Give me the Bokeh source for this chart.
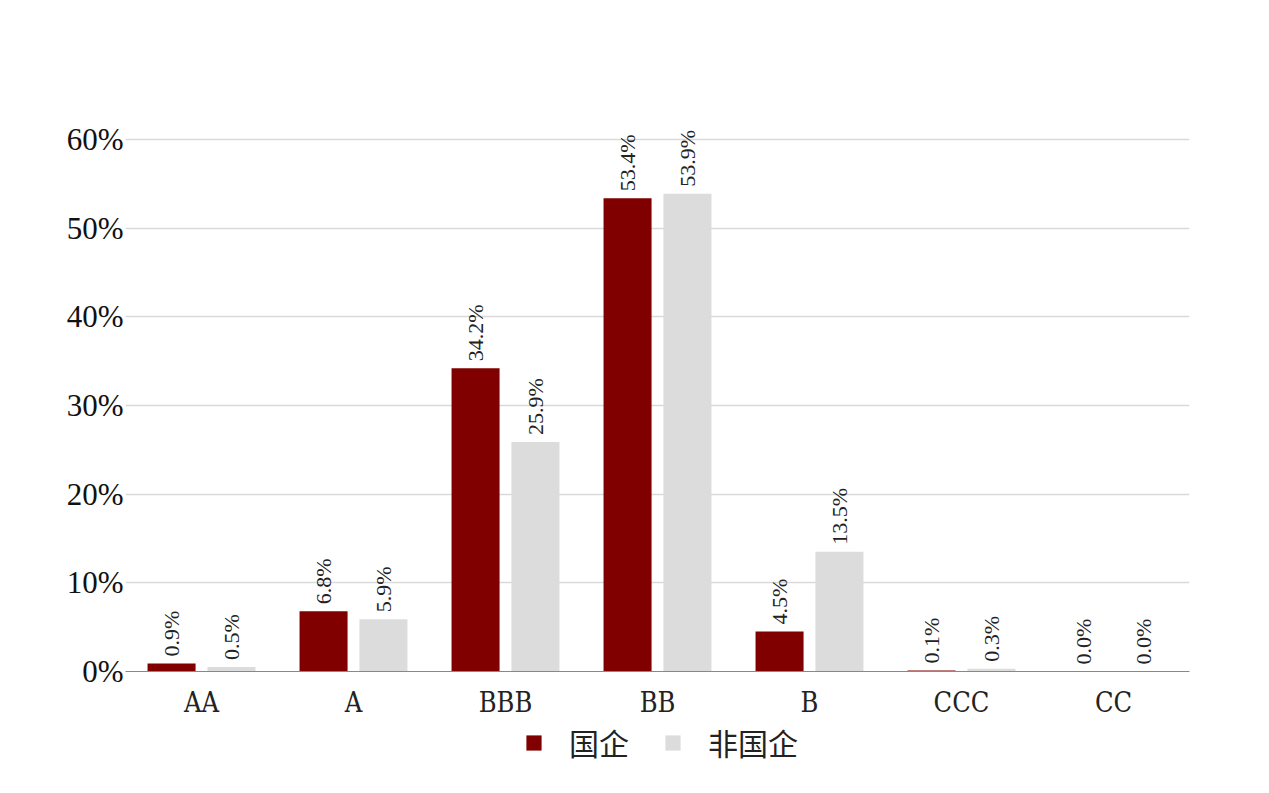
from bokeh.plotting import figure
from bokeh.layouts import column
from bokeh.models import ColumnDataSource, FactorRange, Legend, LegendItem, FixedTicker, CustomJSTickFormatter
from bokeh.transform import dodge
from bokeh.core.properties import value
from bokeh.embed import file_html
from bokeh.resources import INLINE
import math

categories = ["AA", "A", "BBB", "BB", "B", "CCC", "CC"]
soe = [0.9, 6.8, 34.2, 53.4, 4.5, 0.1, 0.0]
non_soe = [0.5, 5.9, 25.9, 53.9, 13.5, 0.3, 0.0]
series_names = ["国企", "非国企"]
series_colors = ["#800000", "#dcdcdc"]
y_ticks = [0, 10, 20, 30, 40, 50, 60]

SERIF = "'Liberation Serif'"

src = ColumnDataSource(dict(
    cat=categories, soe=soe, non=non_soe,
    soe_lbl=[f"{v:.1f}%" for v in soe],
    non_lbl=[f"{v:.1f}%" for v in non_soe],
))

p = figure(x_range=FactorRange(*categories, range_padding=0), y_range=(0, 66),
           width=1253, height=720, output_backend="svg", toolbar_location=None,
           min_border_left=125, min_border_right=64, min_border_top=86, min_border_bottom=49)
p.outline_line_color = None

r1 = p.vbar(x=dodge("cat", -0.197, range=p.x_range), top="soe", width=0.316, source=src,
            fill_color=series_colors[0], line_color=None)
r2 = p.vbar(x=dodge("cat", 0.197, range=p.x_range), top="non", width=0.316, source=src,
            fill_color=series_colors[1], line_color=None)

common = dict(angle=math.pi / 2, text_align="left", text_baseline="middle",
              text_font=value(SERIF), text_font_size="22px", text_color="#222222",
              y_offset=-7, source=src)
p.text(x=dodge("cat", -0.197, range=p.x_range), y="soe", text="soe_lbl", **common)
p.text(x=dodge("cat", 0.197, range=p.x_range), y="non", text="non_lbl", **common)

p.yaxis.ticker = FixedTicker(ticks=y_ticks)
p.yaxis.formatter = CustomJSTickFormatter(code="return tick + '%';")
p.yaxis.axis_line_color = None
p.yaxis.major_tick_line_color = None
p.yaxis.minor_tick_line_color = None
p.yaxis.major_label_text_font = SERIF
p.yaxis.major_label_text_font_size = "31px"
p.yaxis.major_label_text_color = "#111111"
p.yaxis.major_label_standoff = -4

p.xaxis.axis_line_color = "#888888"
p.xaxis.major_tick_line_color = None
p.xaxis.minor_tick_line_color = None
p.xaxis.major_label_text_font = "'DejaVu Serif Condensed'"
p.xaxis.major_label_text_font_size = "27px"
p.xaxis.major_label_text_color = "#222222"
p.xaxis.major_label_standoff = 9

p.xgrid.grid_line_color = None
p.ygrid.grid_line_color = "#d9d9d9"
p.ygrid.grid_line_width = 1.5
p.ygrid.ticker = FixedTicker(ticks=y_ticks)

# legend strip below the chart (hidden copies of the series supply the swatches)
lg = figure(width=1253, height=57, x_range=p.x_range, y_range=(0, 1), output_backend="svg",
            toolbar_location=None, min_border=0, x_axis_location=None, y_axis_location=None)
lg.grid.grid_line_color = None
lg.outline_line_color = None
lr1 = lg.vbar(x="cat", top="soe", width=0.3, source=src, fill_color=series_colors[0],
              line_color=None, visible=False)
lr2 = lg.vbar(x="cat", top="non", width=0.3, source=src, fill_color=series_colors[1],
              line_color=None, visible=False)
legend = Legend(items=[LegendItem(label=series_names[0], renderers=[lr1]),
                       LegendItem(label=series_names[1], renderers=[lr2])],
                orientation="horizontal", location=(399, 13),
                label_text_font="'Noto Sans CJK SC'", label_text_font_size="30px",
                label_text_color="#222222", glyph_width=19, glyph_height=19,
                spacing=34, label_standoff=26, border_line_color=None,
                background_fill_alpha=0, inactive_fill_alpha=0, padding=4, margin=0)
lg.add_layout(legend, "center")

open("out.html", "w").write(file_html(column(p, lg, spacing=0), INLINE))
